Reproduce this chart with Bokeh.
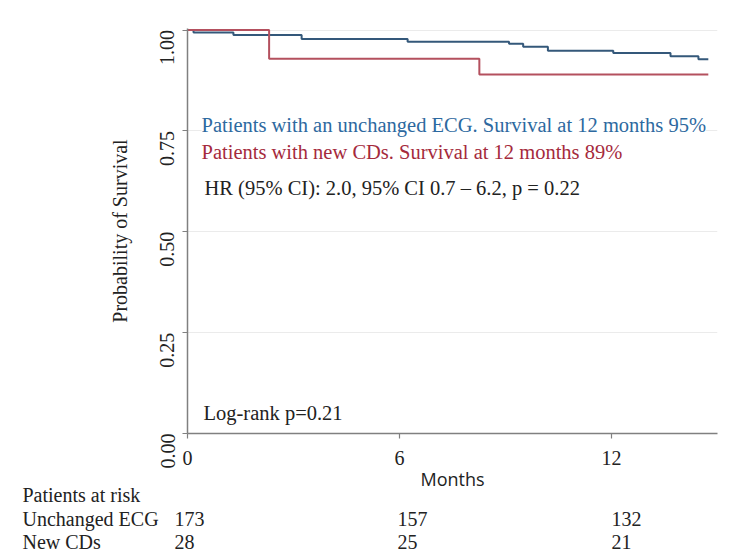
import math
from bokeh.plotting import figure
from bokeh.models import Label, FixedTicker, PrintfTickFormatter, Range1d, ColumnDataSource, Title
from bokeh.layouts import column
from bokeh.core.properties import value
from bokeh.embed import file_html
from bokeh.resources import INLINE

# ---- data ----
unchanged_t = [0, 0.17, 1.30, 3.23, 6.23, 9.1, 9.5, 10.2, 12.05, 13.67, 14.46, 14.74]
unchanged_s = [1.0, 0.994, 0.988, 0.978, 0.971, 0.966, 0.959, 0.949, 0.943, 0.935, 0.928, 0.928]
newcd_t = [0, 2.31, 8.26, 14.74]
newcd_s = [1.0, 0.929, 0.890, 0.890]

x_ticks = [0, 6, 12]
y_ticks = [0, 0.25, 0.5, 0.75, 1.0]

risk_times = [0, 6, 12]
risk_groups = ["Unchanged ECG", "New CDs"]
risk_unchanged = [173, 157, 132]
risk_new = [28, 25, 21]

legend_unchanged = "Patients with an unchanged ECG. Survival at 12 months 95%"
legend_new = "Patients with new CDs. Survival at 12 months 89%"
hr_text = "HR (95% CI): 2.0, 95% CI 0.7 \u2013 6.2, p = 0.22"
logrank_text = "Log-rank p=0.21"

# ---- styling ----
SERIF = "Liberation Serif"
BLUE_LINE = "#34587a"
RED_LINE = "#b4505e"
BLUE_TEXT = "#2d69a0"
RED_TEXT = "#a52a3c"
DARK = "#222222"
AXIS = "#808080"

W = 740
PH = 506            # main figure height
RH = 558 - PH       # risk-table figure height
X0, X1 = 0, 15
Y0, Y1 = 0, 1.004
LEFT, RIGHT, TOP = 187, 23, 28
BOTTOM = PH - 433

p = figure(width=W, height=PH, output_backend="svg", toolbar_location=None,
           x_range=Range1d(X0, X1), y_range=Range1d(Y0, Y1),
           min_border_left=LEFT, min_border_right=RIGHT,
           min_border_top=TOP, min_border_bottom=BOTTOM)
p.frame_align = False
p.outline_line_color = None
p.background_fill_color = "white"
p.border_fill_color = "white"

fw = W - LEFT - RIGHT
fh = PH - TOP - BOTTOM
sx = fw / (X1 - X0)
sy = fh / (Y1 - Y0)

def dx(px):
    return X0 + (px - LEFT) / sx

def dy(py):
    return Y0 + (PH - BOTTOM - py) / sy

# grid
p.xgrid.visible = False
p.ygrid.ticker = FixedTicker(ticks=y_ticks)
p.ygrid.grid_line_color = "#ebebeb"
p.ygrid.grid_line_width = 1

# axes
for ax in (p.xaxis[0], p.yaxis[0]):
    ax.axis_line_color = AXIS
    ax.axis_line_width = 1.5
    ax.major_tick_line_color = AXIS
    ax.major_tick_line_width = 1.2
    ax.major_tick_out = 5
    ax.major_tick_in = 0
    ax.minor_tick_line_color = None
    ax.major_label_text_font = SERIF
    ax.major_label_text_font_size = "20px"
    ax.major_label_text_color = DARK

p.xaxis.ticker = FixedTicker(ticks=x_ticks)
p.xaxis.major_label_standoff = 12
p.xaxis.axis_label = "Months"
p.xaxis.axis_label_text_font = "Open Sans"
p.xaxis.axis_label_text_font_size = "18px"
p.xaxis.axis_label_text_font_style = "normal"
p.xaxis.axis_label_text_color = DARK
p.xaxis.axis_label_standoff = -1

p.yaxis.ticker = FixedTicker(ticks=y_ticks)
p.yaxis.formatter = PrintfTickFormatter(format="%.2f")
p.yaxis.major_label_orientation = math.pi / 2
p.yaxis.major_label_standoff = 15
p.yaxis.axis_label = "Probability of Survival"
p.yaxis.axis_label_text_font = SERIF
p.yaxis.axis_label_text_font_size = "20px"
p.yaxis.axis_label_text_font_style = "normal"
p.yaxis.axis_label_text_color = DARK
p.yaxis.axis_label_standoff = 20

# curves
p.step(unchanged_t, unchanged_s, mode="after", line_color=BLUE_LINE, line_width=2)
p.step(newcd_t, newcd_s, mode="after", line_color=RED_LINE, line_width=2)

def lab(text, px, py, color=DARK, size="20.5px", bg=None):
    kw = {}
    if bg:
        kw = dict(background_fill_color=bg, background_fill_alpha=1.0)
    p.add_layout(Label(x=dx(px), y=dy(py), text=text, text_color=color,
                       text_font=SERIF, text_font_size=size, text_align="left",
                       text_baseline="middle", **kw))

lab(legend_unchanged, 201, 124, color=BLUE_TEXT, bg="white")
lab(legend_new, 201, 151, color=RED_TEXT, bg="white")
lab(hr_text, 204, 187, color=DARK, bg="white")
lab(logrank_text, 203, 412, color=DARK)

# "Patients at risk" heading, below the axis
p.add_layout(Title(text="Patients at risk", align="left", offset=22 - LEFT, standoff=-24,
                   text_font=SERIF, text_font_size="20px", text_font_style="normal",
                   text_color=DARK), "below")

# ---- risk table figure (same horizontal scale as the main plot) ----
r = figure(width=W, height=RH, output_backend="svg", toolbar_location=None,
           x_range=Range1d(X0 - LEFT / sx, X0 + (W - LEFT) / sx),
           y_range=Range1d(0, RH), x_axis_type=None, y_axis_type=None,
           min_border_left=0, min_border_right=0, min_border_top=0, min_border_bottom=0)
r.frame_align = False
r.outline_line_color = None
r.background_fill_color = "white"
r.border_fill_color = "white"

def ry(py):
    return 558 - py

name_x = dx(22)
row_py = [518, 541]
r.text(x=[name_x] * len(risk_groups), y=[ry(v) for v in row_py], text=risk_groups,
       text_font=value(SERIF), text_font_size="20px", text_color=DARK,
       text_align="left", text_baseline="middle")

risk_dx = [-13, -2, 0]
for vals, py in zip([risk_unchanged, risk_new], row_py):
    src = ColumnDataSource(dict(x=risk_times, y=[ry(py)] * len(vals),
                                t=[str(v) for v in vals], off=risk_dx))
    r.text(x="x", y="y", text="t", x_offset="off", source=src, text_font=value(SERIF),
           text_font_size="20px", text_color=DARK, text_align="left", text_baseline="middle")

layout = column(p, r, spacing=0)
open("out.html", "w").write(file_html(layout, INLINE))
